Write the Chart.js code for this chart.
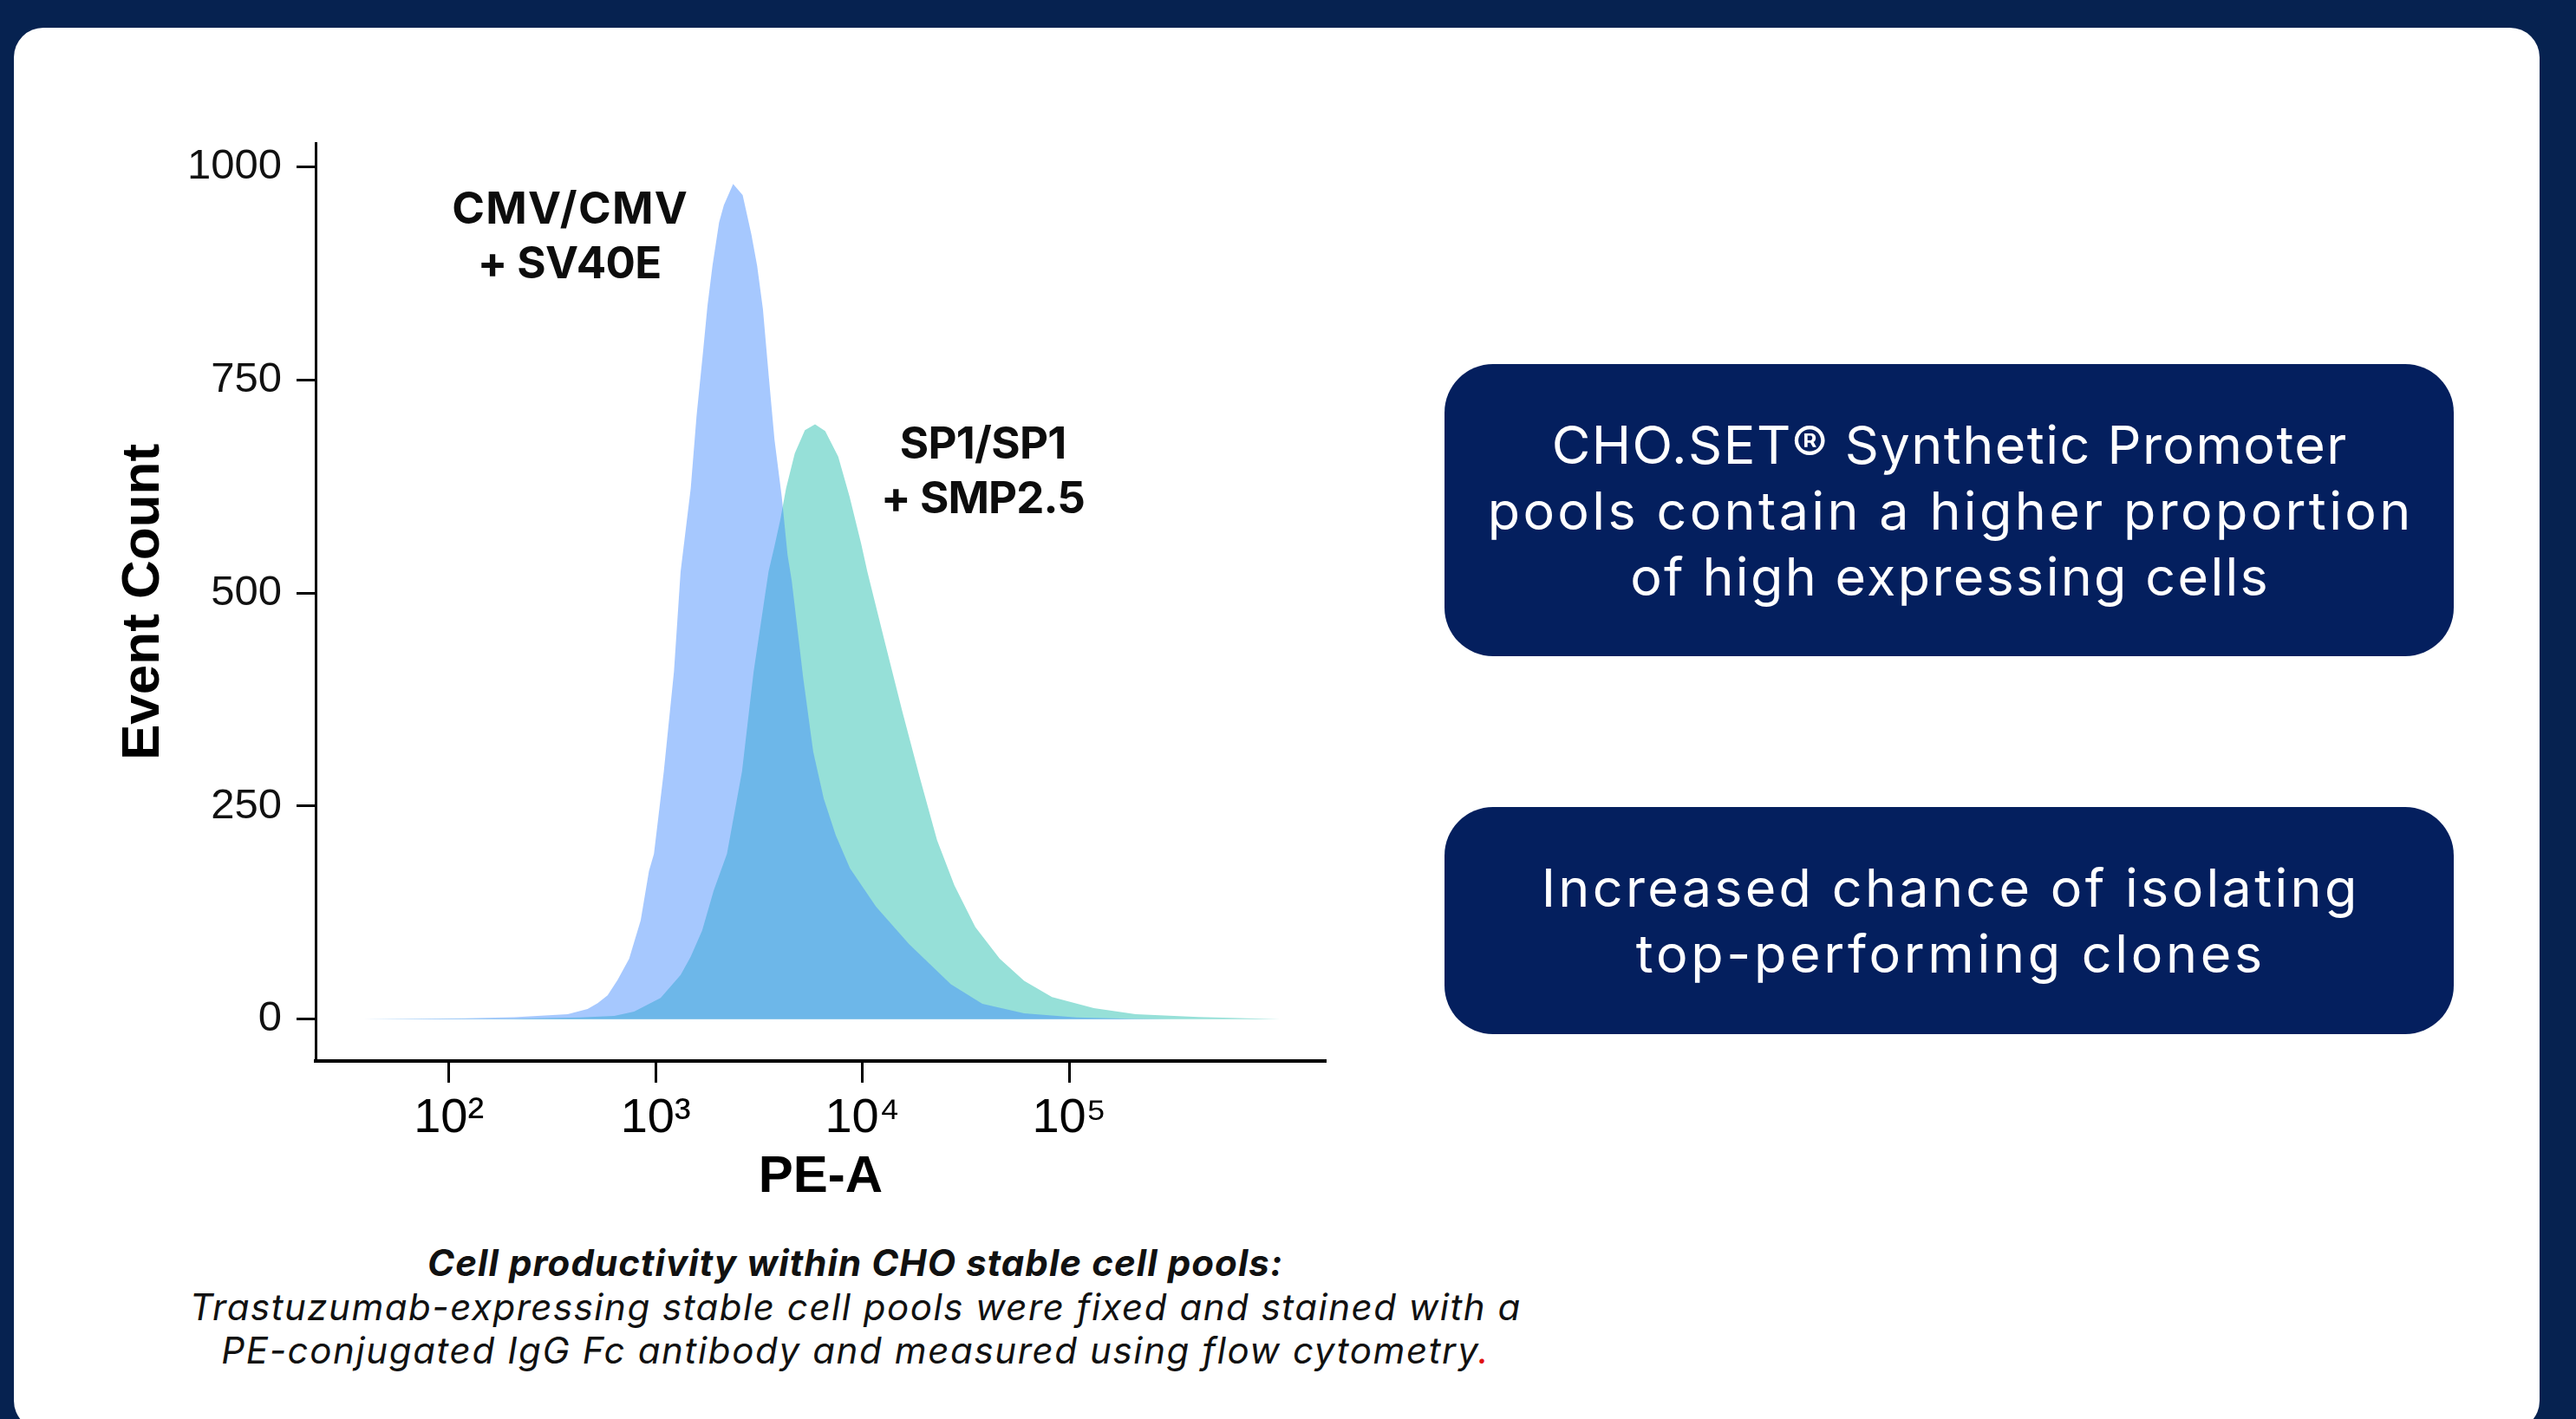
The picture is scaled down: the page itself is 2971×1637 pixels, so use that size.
<!DOCTYPE html>
<html>
<head>
<meta charset="utf-8">
<script src="https://cdn.jsdelivr.net/npm/chart.js@4.4.1/dist/chart.umd.min.js"></script>
<style>
  html, body { margin: 0; padding: 0; }
  body { width: 2971px; height: 1637px; background: #062250; position: relative; overflow: hidden; font-family: Inter, "Open Sans", sans-serif; }
  #panel { position: absolute; left: 16px; top: 32px; width: 2913px; height: 1618px; background: #ffffff; border-radius: 34px; }
  #c { position: absolute; left: 0; top: 0; }
  .lbl { position: absolute; font-family: Inter, sans-serif; font-weight: 700; font-size: 51px; line-height: 63px; color: #0d0d0d; text-align: center; white-space: nowrap; transform: translate(-50%, -50%); }
  .box { position: absolute; left: 1666px; width: 1164px; background: #041f5e; border-radius: 56px; color: #ffffff; display: flex; align-items: center; justify-content: center; text-align: center; font-family: Inter, sans-serif; font-size: 61px; line-height: 76px; white-space: nowrap; }
  .caption { position: absolute; left: 986px; top: 1508px; transform: translate(-50%, -50%); text-align: center; white-space: nowrap; font-family: Inter, sans-serif; font-size: 42px; line-height: 50.5px; color: #111; font-style: italic; }
  .caption .b { font-weight: 700; }
  .red { color: #e01010; }
</style>
</head>
<body>
<div id="panel"></div>
<canvas id="c" width="1600" height="1400"></canvas>

<div class="lbl" style="left:657px; top:271px;"><span class="fit" data-w="273">CMV/CMV</span><br><span class="fit" data-w="212">+ SV40E</span></div>
<div class="lbl" style="left:1134px; top:542px;"><span class="fit" data-w="192">SP1/SP1</span><br><span class="fit" data-w="235">+ SMP2.5</span></div>

<div class="box" style="top:420px; height:337px;"><div><span class="fit" data-w="918">CHO.SET® Synthetic Promoter</span><br><span class="fit" data-w="1068">pools contain a higher proportion</span><br><span class="fit" data-w="738">of high expressing cells</span></div></div>
<div class="box" style="top:931px; height:262px;"><div><span class="fit" data-w="944">Increased chance of isolating</span><br><span class="fit" data-w="726">top-performing clones</span></div></div>

<div class="caption"><span class="fit b" data-w="987">Cell productivity within CHO stable cell pools:</span><br><span class="fit" data-w="1536">Trastuzumab-expressing stable cell pools were fixed and stained with a</span><br><span class="fit" data-w="1463">PE-conjugated IgG Fc antibody and measured using flow cytometry<span class="red">.</span></span></div>

<script>
// ---- data ----
const peCMV = [38, 119, 208, 376, 469, 525, 586, 655, 745, 847, 929, 982, 1096, 1227, 1321, 1479, 1578, 1694, 1782, 1884, 2028, 2138, 2371, 2636, 2904, 3097, 3304, 3524, 3758, 4074, 4345, 4550, 5176, 5781, 6501, 7430, 8710, 11641, 16827, 26792, 38019, 60534, 108393, 194089, 316228];
const countCMV = [0, 1, 2.4, 6, 12, 19, 28, 46, 71, 116, 174, 194, 291, 408, 525, 623, 708, 782, 837, 884, 935, 955, 980, 967, 921, 884, 833, 755, 680, 613, 545, 515, 400, 314, 259, 216, 177, 132, 88, 41, 18, 7, 2, 0.5, 0];

const peSP1 = [38, 204, 431, 631, 787, 1057, 1321, 1476, 1679, 1910, 2213, 2618, 2979, 3516, 3758, 4009, 4276, 4710, 5272, 5902, 6607, 7638, 8670, 9863, 10568, 12823, 15596, 18923, 22961, 27861, 35156, 46132, 60534, 82604, 131522, 209411, 420727, 1047129];
const countSP1 = [0, 0.5, 2, 4, 9, 25, 52, 73, 104, 151, 194, 291, 408, 525, 555, 586, 623, 664, 691, 698, 690, 660, 613, 558, 525, 443, 361, 284, 210, 157, 108, 71, 45, 26, 13, 6, 2.6, 0];

const seriesNames = ['CMV/CMV + SV40E', 'SP1/SP1 + SMP2.5'];
const yTickValues = [0, 250, 500, 750, 1000];
const yTickLabels = ['0', '250', '500', '750', '1000'];
const xTickValues = [100, 1000, 10000, 100000];
const xTickLabels = ['10²', '10³', '10⁴', '10⁵'];

function pts(xs, ys) { return xs.map((x, i) => ({ x: x, y: ys[i] })); }

new Chart(document.getElementById('c').getContext('2d'), {
  type: 'line',
  data: {
    datasets: [
      { label: seriesNames[0], data: pts(peCMV, countCMV), backgroundColor: 'rgba(62,135,253,0.46)', borderColor: 'rgba(0,0,0,0)', borderWidth: 0, pointRadius: 0, fill: 'origin', tension: 0 },
      { label: seriesNames[1], data: pts(peSP1, countSP1), backgroundColor: '#96e0d8', borderColor: 'rgba(0,0,0,0)', borderWidth: 0, pointRadius: 0, fill: 'origin', tension: 0 }
    ]
  },
  options: {
    responsive: false,
    animation: false,
    devicePixelRatio: 1,
    layout: { padding: { left: 129, top: 165, right: 71, bottom: 6 } },
    plugins: { legend: { display: false }, tooltip: { enabled: false } },
    scales: {
      x: {
        type: 'logarithmic', position: 'bottom', min: 22.7, max: 1739000,
        afterBuildTicks: s => { s.ticks = xTickValues.map(v => ({ value: v })); },
        afterFit: s => { s.height = 170; },
        grid: { drawOnChartArea: false, drawTicks: true, tickLength: 25, tickWidth: 3, tickColor: '#000' },
        border: { display: true, color: '#000', width: 4 },
        ticks: {
          autoSkip: false, maxRotation: 0, padding: 8, color: '#000',
          font: { family: '"Liberation Sans Narrow", "Liberation Sans", Arial, sans-serif', size: 56 },
          callback: (v) => { const i = xTickValues.indexOf(v); return i >= 0 ? xTickLabels[i] : ''; }
        },
        title: { display: true, text: 'PE-A', color: '#000', padding: { top: 0, bottom: 0 },
          font: { family: '"Liberation Sans", Arial, sans-serif', size: 60, weight: 'bold' } }
      },
      y: {
        min: -49, max: 1028,
        afterBuildTicks: s => { s.ticks = yTickValues.map(v => ({ value: v })); },
        afterFit: s => { s.width = 235; },
        grid: { drawOnChartArea: false, drawTicks: true, tickLength: 22, tickWidth: 3, tickColor: '#000' },
        border: { display: true, color: '#000', width: 3 },
        ticks: { padding: 17, color: '#111',
          font: { family: '"Liberation Sans", Arial, sans-serif', size: 49 },
          callback: (v) => { const i = yTickValues.indexOf(v); return i >= 0 ? yTickLabels[i] : ''; } },
        title: { display: true, text: 'Event Count', color: '#000', padding: { top: 0, bottom: 0 },
          font: { family: '"Liberation Sans", Arial, sans-serif', size: 62, weight: 'bold' } }
      }
    }
  }
});

// stretch each text line to the width it occupies in the reference
function fitLines() {
  document.querySelectorAll('.fit').forEach(sp => {
    sp.style.letterSpacing = '0px';
    sp.style.marginRight = '0px';
    const natural = sp.getBoundingClientRect().width;
    const target = parseFloat(sp.dataset.w);
    const n = sp.textContent.length;
    const ls = (target - natural) / n;
    sp.style.letterSpacing = ls + 'px';
    sp.style.marginRight = (-ls) + 'px';
  });
}
if (document.fonts && document.fonts.ready) { document.fonts.ready.then(fitLines); } else { fitLines(); }
fitLines();
</script>
</body>
</html>
